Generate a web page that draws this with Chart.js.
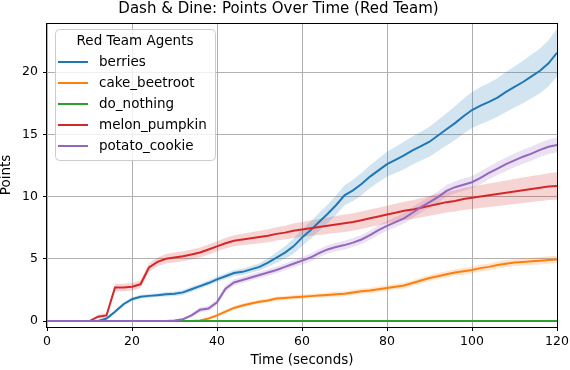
<!DOCTYPE html>
<html><head><meta charset="utf-8">
<script src="https://cdn.jsdelivr.net/npm/chart.js@4.4.1/dist/chart.umd.min.js"></script>
<style>html,body{margin:0;padding:0;background:#fff;}#wrap{width:570px;height:370px;}</style>
</head><body><div id="wrap"><canvas id="c" width="570" height="370"></canvas></div>
<script>
// ---- data ----
const times = [0,2,4,6,8,10,12,14,16,18,20,22,24,26,28,30,32,34,36,38,40,42,44,46,48,50,52,54,56,58,60,62,64,66,68,70,72,74,76,78,80,82,84,86,88,90,92,94,96,98,100,102,104,106,108,110,112,114,116,118,120];
const seriesNames = ['berries','cake_beetroot','do_nothing','melon_pumpkin','potato_cookie'];
const xTickValues = [0,20,40,60,80,100,120];
const yTickValues = [0,5,10,15,20];

const berries = [0,0,0,0,0,0,0,0.2,0.75,1.35,1.75,1.95,2.02,2.08,2.15,2.2,2.3,2.55,2.8,3.05,3.35,3.6,3.85,3.95,4.15,4.35,4.7,5.1,5.5,6.0,6.7,7.3,7.95,8.6,9.3,10.1,10.5,11.0,11.6,12.1,12.6,12.95,13.3,13.7,14.05,14.4,14.9,15.4,15.9,16.45,16.95,17.3,17.6,17.95,18.4,18.8,19.2,19.65,20.1,20.7,21.55];
const berriesErr = [0,0,0,0,0,0,0,0.1,0.15,0.15,0.15,0.15,0.15,0.15,0.18,0.18,0.2,0.2,0.2,0.2,0.22,0.22,0.25,0.25,0.28,0.3,0.35,0.42,0.5,0.6,0.68,0.7,0.72,0.75,0.78,0.8,0.85,0.9,0.92,0.95,1.0,1.05,1.1,1.12,1.15,1.2,1.25,1.3,1.35,1.4,1.45,1.5,1.52,1.55,1.6,1.65,1.7,1.75,1.8,1.85,1.9];

const cakeBeetroot = [0,0,0,0,0,0,0,0,0,0,0,0,0,0,0,0,0,0,0.05,0.2,0.45,0.75,1.05,1.25,1.4,1.55,1.65,1.8,1.85,1.9,1.95,2.0,2.05,2.1,2.15,2.2,2.3,2.4,2.45,2.55,2.65,2.75,2.85,3.05,3.25,3.45,3.6,3.75,3.9,4.0,4.1,4.25,4.35,4.5,4.6,4.7,4.75,4.8,4.85,4.9,4.95];
const cakeBeetrootErr = [0,0,0,0,0,0,0,0,0,0,0,0,0,0,0,0,0,0,0.03,0.08,0.12,0.15,0.15,0.15,0.15,0.16,0.16,0.17,0.17,0.18,0.18,0.18,0.19,0.19,0.2,0.2,0.2,0.21,0.21,0.22,0.22,0.22,0.23,0.23,0.24,0.24,0.25,0.25,0.25,0.26,0.26,0.27,0.27,0.28,0.28,0.28,0.29,0.29,0.3,0.3,0.3];

const doNothing = [0,0,0,0,0,0,0,0,0,0,0,0,0,0,0,0,0,0,0,0,0,0,0,0,0,0,0,0,0,0,0,0,0,0,0,0,0,0,0,0,0,0,0,0,0,0,0,0,0,0,0,0,0,0,0,0,0,0,0,0,0];
const doNothingErr = [0,0,0,0,0,0,0,0,0,0,0,0,0,0,0,0,0,0,0,0,0,0,0,0,0,0,0,0,0,0,0,0,0,0,0,0,0,0,0,0,0,0,0,0,0,0,0,0,0,0,0,0,0,0,0,0,0,0,0,0,0];

const melonPumpkin = [0,0,0,0,0,0,0.35,0.45,2.7,2.7,2.75,2.95,4.3,4.75,5.0,5.1,5.2,5.35,5.5,5.75,6.0,6.25,6.45,6.55,6.65,6.75,6.85,7.0,7.1,7.25,7.35,7.45,7.55,7.65,7.75,7.85,7.95,8.1,8.25,8.4,8.55,8.7,8.85,8.95,9.1,9.25,9.4,9.55,9.65,9.8,9.9,10.0,10.1,10.2,10.3,10.4,10.5,10.6,10.7,10.8,10.85];
const melonPumpkinErr = [0,0,0,0,0,0,0.15,0.2,0.3,0.3,0.3,0.3,0.35,0.35,0.38,0.4,0.4,0.4,0.4,0.4,0.4,0.42,0.44,0.46,0.48,0.5,0.52,0.54,0.56,0.58,0.6,0.62,0.64,0.66,0.68,0.7,0.7,0.7,0.7,0.7,0.7,0.72,0.74,0.76,0.78,0.8,0.82,0.84,0.86,0.88,0.9,0.92,0.94,0.96,0.98,1.0,1.02,1.04,1.06,1.08,1.1];

const potatoCookie = [0,0,0,0,0,0,0,0,0,0,0,0,0,0,0,0.05,0.15,0.45,0.9,1.0,1.5,2.6,3.1,3.3,3.5,3.7,3.9,4.1,4.35,4.6,4.85,5.1,5.45,5.75,5.95,6.1,6.3,6.55,6.9,7.3,7.65,7.95,8.25,8.7,9.15,9.55,9.95,10.45,10.75,10.95,11.15,11.5,11.9,12.25,12.6,12.9,13.2,13.45,13.75,14.0,14.15];
const potatoCookieErr = [0,0,0,0,0,0,0,0,0,0,0,0,0,0,0,0.03,0.08,0.15,0.2,0.2,0.22,0.25,0.25,0.25,0.25,0.25,0.26,0.27,0.28,0.29,0.3,0.31,0.32,0.33,0.34,0.35,0.36,0.37,0.38,0.39,0.4,0.41,0.42,0.43,0.44,0.45,0.46,0.47,0.48,0.49,0.5,0.51,0.52,0.53,0.54,0.55,0.56,0.57,0.58,0.59,0.6];

// ---- styling ----
const FONT = "'DejaVu Sans', 'Liberation Sans', sans-serif";
const seriesValues = [berries, cakeBeetroot, doNothing, melonPumpkin, potatoCookie];
const seriesErrors = [berriesErr, cakeBeetrootErr, doNothingErr, melonPumpkinErr, potatoCookieErr];
const lineColors = ['#1f77b4','#ff7f0e','#2ca02c','#d62728','#9467bd'];
const bandColors = ['rgba(31,119,180,0.2)','rgba(255,127,14,0.2)','rgba(44,160,44,0.2)','rgba(214,39,40,0.2)','rgba(148,103,189,0.2)'];

const datasets = [];
seriesNames.forEach((name, i) => {
  const v = seriesValues[i], e = seriesErrors[i];
  datasets.push({label: name + ' lo', isBand: true, data: times.map((t,k)=>({x:t, y:v[k]-e[k]})),
    borderWidth: 0, pointRadius: 0, fill: false, order: 100 + i});
  datasets.push({label: name + ' hi', isBand: true, data: times.map((t,k)=>({x:t, y:v[k]+e[k]})),
    borderWidth: 0, pointRadius: 0, fill: '-1', backgroundColor: bandColors[i], order: 100 + i});
});
seriesNames.forEach((name, i) => {
  datasets.push({label: name, isBand: false, data: times.map((t,k)=>({x:t, y:seriesValues[i][k]})),
    borderColor: lineColors[i], backgroundColor: lineColors[i], borderWidth: 2, pointRadius: 0,
    fill: false, tension: 0, order: 10 - i});
});

const framePlugin = {
  id: 'frame',
  afterDatasetsDraw(chart) {
    const {ctx, chartArea: a} = chart;
    ctx.save();
    ctx.strokeStyle = '#000'; ctx.lineWidth = 1;
    ctx.strokeRect(Math.round(a.left) - 0.5, Math.round(a.top) + 0.5, Math.round(a.right - a.left) + 1, Math.round(a.bottom - a.top));
    ctx.restore();
  }
};

const legendPlugin = {
  id: 'boxLegend',
  afterDraw(chart) {
    const ctx = chart.ctx;
    const x0 = 55, y0 = 29.5, w = 160, h = 131, r = 4;
    ctx.save();
    ctx.beginPath();
    ctx.roundRect(x0 + 0.5, y0, w, h, r);
    ctx.fillStyle = 'rgba(255,255,255,0.8)';
    ctx.fill();
    ctx.strokeStyle = '#cccccc'; ctx.lineWidth = 1; ctx.stroke();
    ctx.fillStyle = '#000';
    ctx.font = '13.5px ' + FONT;
    ctx.textBaseline = 'middle';
    ctx.textAlign = 'center';
    ctx.fillText('Red Team Agents', x0 + w / 2, 41);
    ctx.textAlign = 'left';
    const lines = chart.data.datasets.filter(d => !d.isBand);
    lines.forEach((d, i) => {
      const y = 62 + i * 21;
      ctx.strokeStyle = d.borderColor; ctx.lineWidth = 2;
      ctx.beginPath(); ctx.moveTo(58, y); ctx.lineTo(88, y); ctx.stroke();
      ctx.fillStyle = '#000';
      ctx.fillText(d.label, 99, y);
    });
    ctx.restore();
  }
};

new Chart(document.getElementById('c'), {
  type: 'line',
  data: {datasets},
  plugins: [framePlugin, legendPlugin],
  options: {
    responsive: false,
    animation: false,
    devicePixelRatio: 1,
    layout: {padding: {left: 0, right: 13, top: 0, bottom: 0}},
    plugins: {
      legend: {display: false},
      tooltip: {enabled: false},
      title: {display: true, text: 'Dash & Dine: Points Over Time (Red Team)', color: '#000',
        font: {family: FONT, size: 15, weight: 'normal'}, padding: {top: 0.5, bottom: 4.5}}
    },
    scales: {
      x: {
        type: 'linear', min: 0, max: 120,
        afterBuildTicks: s => { s.ticks = xTickValues.map(v => ({value: v})); },
        afterFit: s => { s.height = 43; s.paddingLeft = 0; s.paddingRight = 0; },
        ticks: {color: '#000', font: {family: FONT, size: 12.5}, padding: 3, maxRotation: 0, autoSkip: false, includeBounds: false},
        grid: {color: '#b0b0b0', lineWidth: 1, tickLength: 4, tickColor: '#000', tickWidth: 1},
        border: {display: false},
        title: {display: true, text: 'Time (seconds)', color: '#000', font: {family: FONT, size: 13.5, lineHeight: 1}, padding: {top: 0, bottom: 2.3}}
      },
      y: {
        type: 'linear', min: -0.48, max: 23.94,
        afterBuildTicks: s => { s.ticks = yTickValues.map(v => ({value: v})); },
        afterFit: s => { s.width = 47; s.paddingTop = 0; s.paddingBottom = 0; },
        ticks: {color: '#000', font: {family: FONT, size: 12.5}, padding: 5, includeBounds: false},
        grid: {color: '#b0b0b0', lineWidth: 1, tickLength: 4, tickColor: '#000', tickWidth: 1},
        border: {display: false},
        title: {display: true, text: 'Points', color: '#000', font: {family: FONT, size: 13.5, lineHeight: 1}, padding: {top: 0, bottom: 0}}
      }
    }
  }
});
</script></body></html>
